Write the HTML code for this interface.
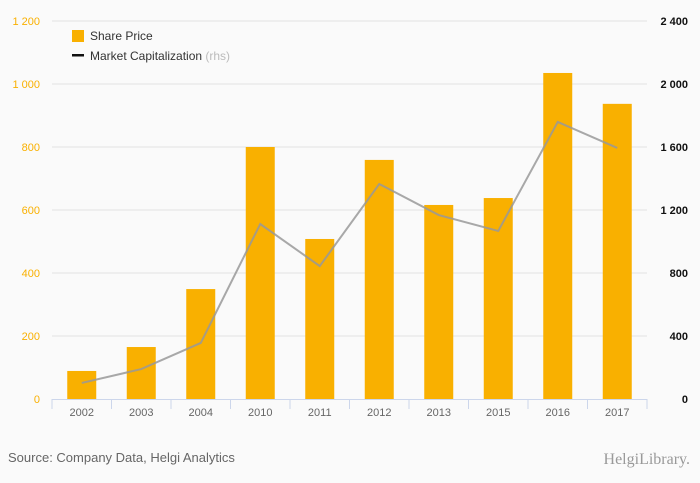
<!DOCTYPE html>
<html><head><meta charset="utf-8"><style>
body{margin:0;background:#fafafa;font-family:"Liberation Sans",sans-serif}
svg{display:block}
</style></head><body>
<svg id="c" width="700" height="483" xmlns="http://www.w3.org/2000/svg">
<rect width="700" height="483" fill="#fafafa"/>
<g id="grid"></g><g id="bars"></g><g id="line"></g><g id="axes"></g>
<g>
<rect x="72" y="30" width="12" height="12" fill="#f9b000"/>
<text x="90" y="40" font-size="12" fill="#333">Share Price</text>
<rect x="72" y="54" width="12" height="2.5" fill="#111"/>
<text x="90" y="60" font-size="12" fill="#333">Market Capitalization <tspan fill="#bbb">(rhs)</tspan></text>
</g>
<text x="8" y="462" font-size="13" fill="#666">Source: Company Data, Helgi Analytics</text>
<text x="690" y="464" font-size="16" fill="#999" text-anchor="end" font-family="Liberation Serif,serif">HelgiLibrary.</text>
</svg>
<script>
const categories=["2002","2003","2004","2010","2011","2012","2013","2015","2016","2017"];
const sharePrice=[89,165,349,800,508,759,616,638,1035,937];
const marketCap=[102,190,356,1111,844,1365,1168,1067,1759,1594];
const leftTicks=[0,200,400,600,800,1000,1200];
const rightTicks=[0,400,800,1200,1600,2000,2400];
const NS="http://www.w3.org/2000/svg";
const x0=52,x1=647,y0=399,y1=21;
const band=(x1-x0)/categories.length;
const xc=i=>x0+band*(i+0.5);
const yL=v=>y0-(v/1200)*(y0-y1);
const yR=v=>y0-(v/2400)*(y0-y1);
function mk(t,a,p){const e=document.createElementNS(NS,t);for(const k in a)e.setAttribute(k,a[k]);p.appendChild(e);return e;}
const grid=document.getElementById('grid'),bars=document.getElementById('bars'),line=document.getElementById('line'),axes=document.getElementById('axes');
leftTicks.forEach((v,i)=>{
 if(v>0){const g=mk('line',{x1:x0,x2:x1,y1:yL(v),y2:yL(v),stroke:'#e3e3e3'},grid);
 
 }
 const t=mk('text',{x:40,y:yL(v)+4,'font-size':11,fill:'#f9b000','text-anchor':'end'},axes);t.textContent=v.toLocaleString('en-US').replace(',',' ');
 
 
});
rightTicks.forEach(v=>{
 const t=mk('text',{x:688,y:yR(v)+4,'font-size':11,fill:'#111','font-weight':'bold','text-anchor':'end'},axes);t.textContent=v.toLocaleString('en-US').replace(',',' ');
 
 
});
const ax=mk('line',{x1:x0,x2:x1,y1:y0+0.5,y2:y0+0.5,stroke:'#ccd6eb'},axes);


for(let i=0;i<=categories.length;i++){const tk=mk('line',{x1:x0+band*i,x2:x0+band*i,y1:y0,y2:y0+10,stroke:'#ccd6eb'},axes);
 
 }
categories.forEach((c,i)=>{
 const t=mk('text',{x:xc(i),y:416,'font-size':11,fill:'#666','text-anchor':'middle'},axes);t.textContent=c;
 
 
 const b=mk('rect',{x:xc(i)-14.5,y:yL(sharePrice[i]),width:29,height:y0-yL(sharePrice[i]),fill:'#f9b000'},bars);
 
 
});
const pl=mk('polyline',{points:marketCap.map((v,i)=>xc(i)+','+yR(v)).join(' '),fill:'none',stroke:'#999','stroke-width':2,'stroke-opacity':0.85},line);


</script>
</body></html>
